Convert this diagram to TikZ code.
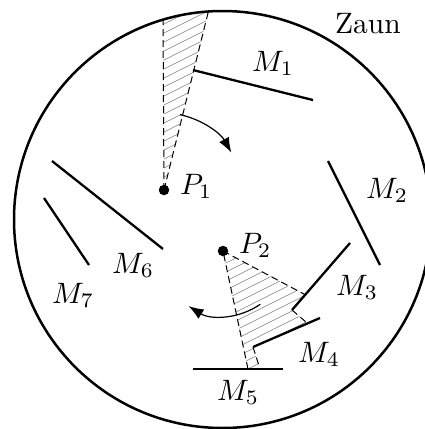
\documentclass[tikz,border=0pt]{standalone}
\usetikzlibrary{arrows.meta}
\newcommand{\mylab}[1]{\scalebox{2.95}{#1}}
\begin{document}
\begin{tikzpicture}[x=1pt,y=-1pt,
  wall/.style={line width=2.3pt},
  fence/.style={line width=2.5pt},
  sight/.style={line width=1pt, dash pattern=on 7pt off 4pt},
  hatchline/.style={gray, line width=0.55pt},
  turn/.style={line width=1.2pt, -{Latex[length=15pt,width=11pt]}},
  lbl/.style={inner sep=0pt, anchor=base west},
  dot/.style={circle, fill, inner sep=0pt, minimum size=10.5pt}
]
\useasboundingbox (0,0) rectangle (424,429);
\coordinate (C) at (222.5,219.5);
\coordinate (P1) at (164,190);
\coordinate (P2) at (223,251);

% hatched region of P1
\begin{scope}
  \clip (C) circle (208.5);
  \clip (P1) -- (163,0) -- (211.2,0) -- cycle;
  \foreach \c in {-200,-191,...,650} \draw[hatchline] (0,\c) -- (424,\c-212);
\end{scope}
\draw[sight] (P1) -- (163,19.7);
\draw[sight] (P1) -- (208.4,11.5);

% hatched region of P2
\begin{scope}
  \clip (P2) -- (305.2,294.7) -- (292,310) -- (307.6,323.4) -- (253,347)
        -- (260,369) -- (248,369) -- cycle;
  \foreach \c in {-200,-191,...,650} \draw[hatchline] (0,\c) -- (424,\c-212);
\end{scope}
\draw[sight] (P2) -- (305.2,294.7);
\draw[sight] (292,310) -- (307.6,323.4);
\draw[sight] (253,347) -- (260,369);
\draw[sight] (248,369) -- (P2);

% fence
\draw[fence] (C) circle (208.5);

% walls
\draw[wall] (193,70) -- (313,100);
\draw[wall] (328,161) -- (380,265);
\draw[wall] (350,243) -- (292,310);
\draw[wall] (253,347) -- (320,318);
\draw[wall] (193,369) -- (283,369);
\draw[wall] (52,161) -- (163,249);
\draw[wall] (44,198) -- (89,265);

% turning arrows
\draw[turn] ([shift={(-78:77)}]P1) arc[start angle=-78, end angle=-29, radius=77];
\draw[turn] ([shift={(55:65)}]P2) arc[start angle=55, end angle=122, radius=65];

% points
\node[dot] (d1) at (P1) {};
\node[dot] (d2) at (P2) {};

% labels
\node[lbl] (lP1) at (180,194) {\mylab{$P_1$}};
\node[lbl] (lP2) at (239,253) {\mylab{$P_2$}};
\node[lbl] (lM1) at (252,71) {\mylab{$M_1$}};
\node[lbl] (lM2) at (366,198) {\mylab{$M_2$}};
\node[lbl] (lM3) at (336,295) {\mylab{$M_3$}};
\node[lbl] (lM4) at (298,362) {\mylab{$M_4$}};
\node[lbl] (lM5) at (217,400) {\mylab{$M_5$}};
\node[lbl] (lM6) at (112,273) {\mylab{$M_6$}};
\node[lbl] (lM7) at (52,303) {\mylab{$M_7$}};
\node[lbl] (lZ) at (335,33) {\mylab{Zaun}};
\end{tikzpicture}
\end{document}
